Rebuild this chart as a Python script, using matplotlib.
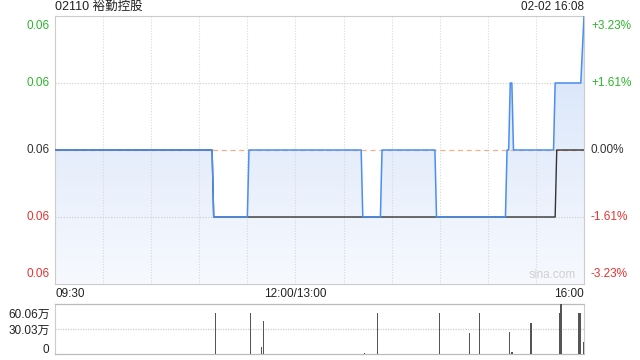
import matplotlib
matplotlib.use('Agg')
import matplotlib.pyplot as plt
import numpy as np
from matplotlib.patches import Polygon
from matplotlib.colors import LinearSegmentedColormap

plt.rcParams['font.family'] = ['Liberation Sans', 'Noto Sans CJK SC', 'DejaVu Sans']

# trading minutes since 09:30 (lunch break removed), 330 = 16:00
price_t = [0, 98, 99, 120, 121, 191, 192, 203, 204, 237, 238, 281, 282, 283, 284, 285, 286, 311, 312, 328, 330]
price = [0.062, 0.062, 0.061, 0.061, 0.062, 0.062, 0.061, 0.061, 0.062, 0.062, 0.061, 0.061,
         0.062, 0.062, 0.063, 0.063, 0.062, 0.062, 0.063, 0.063, 0.064]
avg_t = [0, 98, 99, 312, 313, 330]
avg = [0.062, 0.062, 0.061, 0.061, 0.062, 0.062]

vol_t = [100, 122, 129, 130, 193, 201, 240, 258.5, 265, 283.5, 285, 297, 315, 315.6, 326.7, 327.5, 329.8]
vol = [49.2, 49.2, 8.0, 39.6, 1.5, 49.2, 49.2, 25.2, 49.2, 26.8, 2.0, 37.4, 49.2, 60.06, 49.2, 49.2, 14.8]

prev_close = 0.062
y_ticks = [0.064, 0.063, 0.062, 0.061, 0.060]
pct_labels = ['+3.23%', '+1.61%', '0.00%', '-1.61%', '-3.23%']
tick_colors = ['#2db52d', '#2db52d', '#333333', '#e8312f', '#e8312f']

fig = plt.figure(figsize=(6.4, 3.6), dpi=100)
ax = fig.add_axes([55 / 640, 1 - 284 / 360, 529 / 640, 268 / 360])
axv = fig.add_axes([55 / 640, 1 - 354 / 360, 529 / 640, 50 / 360])

# gradient fill under the price line
verts = list(zip(price_t, price)) + [(330, 0.060), (0, 0.060)]
patch = Polygon(verts, closed=True, facecolor='none', edgecolor='none')
ax.add_patch(patch)
cmap = LinearSegmentedColormap.from_list('g', ['#f7f9fe', '#d3e2f9'])
grad = np.linspace(0, 1, 256).reshape(-1, 1)
img = ax.imshow(grad, extent=[0, 330, 0.060, 0.064], aspect='auto', cmap=cmap, origin='lower', zorder=1)
img.set_clip_path(patch)

for x in range(30, 330, 30):
    ax.axvline(x, color='#d8d8d8', lw=0.8, ls=(0, (1, 1.5)), zorder=2)
for y in [0.061, 0.063]:
    ax.axhline(y, color='#cccccc', lw=0.8, ls=(0, (1, 1.5)), zorder=2)
ax.axhline(prev_close, color='#f4b08a', lw=0.9, ls=(0, (4, 3)), zorder=2)

ax.plot(avg_t, avg, color='#333333', lw=1.0, zorder=3)
ax.plot(price_t, price, color='#4a8ef0', lw=1.1, zorder=4)

ax.set_xlim(0, 330)
ax.set_ylim(0.060, 0.064)
ax.set_xticks([])
ax.set_yticks([])
for s in ax.spines.values():
    s.set_color('#cccccc')
    s.set_linewidth(0.8)

vas = ['top', 'center', 'center', 'center', 'bottom']
for y, lab, c, va in zip(y_ticks, pct_labels, tick_colors, vas):
    off = -3 if va == 'top' else (3 if va == 'bottom' else 0)
    ax.annotate('0.06', (0, y), xytext=(-4, off), textcoords='offset points',
                ha='right', va=va, color=c, fontsize=8.5)
    ax.annotate(lab, (330, y), xytext=(5, off), textcoords='offset points',
                ha='left', va=va, color=c, fontsize=8.5)

ax.text(0, 1.012, '02110 裕勤控股', transform=ax.transAxes, ha='left', va='bottom',
        fontsize=9, color='#222222')
ax.text(1, 1.012, '02-02 16:08', transform=ax.transAxes, ha='right', va='bottom',
        fontsize=8.5, color='#222222')
ax.text(0.985, 0.01, 'sina.com', transform=ax.transAxes, ha='right', va='bottom',
        fontsize=8.5, color='#cfcfcf')

for x, lab, ha in [(0, '09:30', 'left'), (150, '12:00/13:00', 'center'), (330, '16:00', 'right')]:
    ax.annotate(lab, (x, 0.060), xytext=(0, -3), textcoords='offset points',
                ha=ha, va='top', fontsize=8.5, color='#222222')

# volume panel
axv.bar(vol_t, vol, width=0.8, color='#555555', zorder=3)
axv.set_xlim(0, 330)
axv.set_ylim(0, 60.06)
axv.set_xticks([])
axv.set_yticks([])
axv.axhline(30.03, color='#cccccc', lw=0.9, ls=(0, (1, 1)), zorder=1)
for k in ['left', 'right']:
    axv.spines[k].set_color('#cccccc')
    axv.spines[k].set_linewidth(0.8)
for k in ['top', 'bottom']:
    axv.spines[k].set_color('#bbbbbb')
    axv.spines[k].set_linewidth(0.9)
    axv.spines[k].set_linestyle((0, (1, 1)))
for y, lab, va, off in [(60.06, '60.06万', 'top', -3.5), (30.03, '30.03万', 'center', -1.2), (0, '0', 'bottom', -1.5)]:
    axv.annotate(lab, (0, y), xytext=(-4, off), textcoords='offset points',
                 ha='right', va=va, fontsize=8.5, color='#222222')

fig.savefig('out.png', dpi=100)
